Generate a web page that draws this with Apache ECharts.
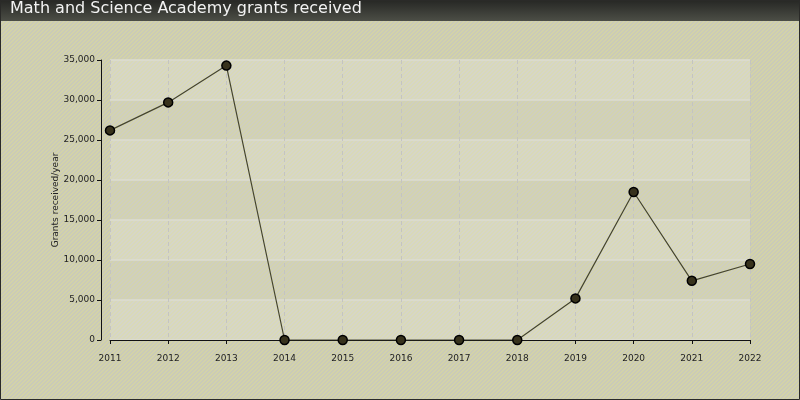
<!DOCTYPE html>
<html>
<head>
<meta charset="utf-8">
<script src="https://cdn.jsdelivr.net/npm/echarts@6/dist/echarts.min.js"></script>
<style>
html,body{margin:0;padding:0;background:#cccca9;}
#chart{width:800px;height:400px;}
</style>
</head>
<body>
<div id="chart"></div>
<script>
const years = ['2011','2012','2013','2014','2015','2016','2017','2018','2019','2020','2021','2022'];
const grants = [26200, 29700, 34300, 0, 0, 0, 0, 0, 5200, 18500, 7400, 9500];
const titleText = 'Math and Science Academy grants received';
const yAxisName = 'Grants received/year';

function stripe(base, line) {
  const c = document.createElement('canvas');
  c.width = 4; c.height = 4;
  const ctx = c.getContext('2d');
  ctx.fillStyle = base; ctx.fillRect(0, 0, 4, 4);
  ctx.fillStyle = line;
  for (let x = 0; x < 4; x++) for (let y = 0; y < 4; y++) {
    const s = (x + y) % 4;
    if (s === 0 || s === 1) ctx.fillRect(x, y, 1, 1);
  }
  return { image: c, repeat: 'repeat' };
}

const outerPat = stripe('#cacab8', '#d3d3a8');
const bandLight = stripe('#d6d6c8', '#d9d9b8');
const bandDark = stripe('#cfcfbf', '#d3d3af');

const chart = echarts.init(document.getElementById('chart'), null, { renderer: 'canvas' });
chart.setOption({
  backgroundColor: outerPat,
  animation: false,
  textStyle: { fontFamily: 'DejaVu Sans' },
  graphic: [
    {
      type: 'rect', z: 100, silent: true,
      shape: { x: 0, y: 0, width: 800, height: 21 },
      style: {
        fill: new echarts.graphic.LinearGradient(0, 0, 0, 1, [
          { offset: 0, color: '#262724' },
          { offset: 1, color: '#4c4e46' }
        ])
      }
    },
    {
      type: 'text', z: 101, silent: true, left: 10, top: 1,
      style: { text: titleText, fill: '#f2f2f2', fontSize: 16, fontFamily: 'DejaVu Sans' }
    },
    {
      type: 'rect', z: 102, silent: true,
      shape: { x: 0.5, y: 0.5, width: 799, height: 399 },
      style: { fill: 'none', stroke: '#2a2a28', lineWidth: 1 }
    }
  ],
  grid: { left: 110, right: 50, top: 60, bottom: 60, containLabel: false },
  xAxis: {
    type: 'category',
    data: years,
    boundaryGap: false,
    offset: 9,
    axisLine: { lineStyle: { color: '#111', width: 1 } },
    axisTick: { show: true, length: 4, lineStyle: { color: '#111' } },
    axisLabel: { color: '#222', fontSize: 9, margin: 5, fontFamily: 'DejaVu Sans' },
    splitLine: { show: true, lineStyle: { color: '#c4c4c0', type: [4, 3], width: 1 } }
  },
  yAxis: {
    type: 'value',
    min: 0, max: 35000, interval: 5000,
    offset: 9,
    name: yAxisName,
    nameLocation: 'middle',
    nameGap: 41,
    nameMoveOverlap: false,
    nameTextStyle: { color: '#222', fontSize: 9, fontFamily: 'DejaVu Sans' },
    axisLine: { show: true, lineStyle: { color: '#111', width: 1 } },
    axisTick: { show: true, length: 4, lineStyle: { color: '#111' } },
    axisLabel: {
      color: '#222', fontSize: 9, margin: 6, fontFamily: 'DejaVu Sans',
      formatter: v => v.toLocaleString('en-US')
    },
    splitLine: { show: true, lineStyle: { color: '#dcdcd2', width: 1.5 } },
    splitArea: { show: true, areaStyle: { color: [bandLight, bandDark] } }
  },
  series: [{
    type: 'line',
    data: grants,
    symbol: 'circle',
    symbolSize: 9,
    lineStyle: { color: '#45452e', width: 1.2 },
    itemStyle: { color: '#37321c', borderColor: '#000', borderWidth: 1.5 },
    z: 5
  }]
});
</script>
</body>
</html>
